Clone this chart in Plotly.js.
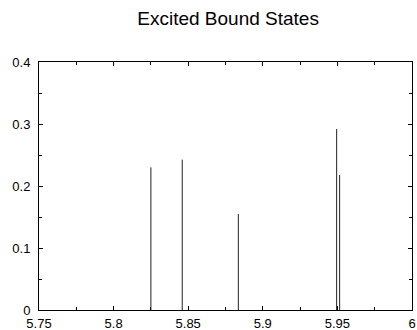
<!DOCTYPE html>
<html>
<head>
<meta charset="utf-8">
<script src="https://cdn.plot.ly/plotly-3.0.1.min.js"></script>
<style>html,body{margin:0;padding:0;background:#fff;}#chart{width:417px;height:330px;}</style>
</head>
<body>
<div id="chart"></div>
<script>
// Peak energies and intensities of the excited bound states
const energies = [5.825, 5.846, 5.8836, 5.9495, 5.9515];
const intensities = [0.230, 0.2425, 0.155, 0.292, 0.2177];
const xTicks = [5.75, 5.8, 5.85, 5.9, 5.95, 6];
const xTickText = ['5.75', '5.8', '5.85', '5.9', '5.95', '6'];
const yTicks = [0, 0.1, 0.2, 0.3, 0.4];
const yTickText = ['0', '0.1', '0.2', '0.3', '0.4'];

const xs = [], ys = [];
energies.forEach((e, i) => { xs.push(e, e, null); ys.push(0, intensities[i], null); });

const trace = {
  x: xs, y: ys, type: 'scatter', mode: 'lines',
  line: {color: '#222', width: 1}, hoverinfo: 'skip', showlegend: false
};

const axisCommon = {
  showgrid: false, zeroline: false, showline: true, linecolor: '#000', linewidth: 1,
  mirror: 'ticks', ticks: 'inside', ticklen: 4, tickcolor: '#000', tickwidth: 1,
  tickfont: {family: 'Liberation Sans, Arial, sans-serif', size: 13, color: '#000'}
};

const layout = {
  width: 417, height: 330,
  margin: {l: 39, r: 5, t: 62, b: 20},
  paper_bgcolor: '#fff', plot_bgcolor: '#fff',
  title: {text: 'Excited Bound States', x: 0.547, xanchor: 'center', y: 0.945, yanchor: 'middle',
          font: {family: 'Liberation Sans, Arial, sans-serif', size: 19, color: '#000'}},
  xaxis: Object.assign({}, axisCommon, {
    range: [5.75, 6], tickmode: 'array', tickvals: xTicks, ticktext: xTickText,
    ticklabelstandoff: 1,
    minor: {dtick: 0.025, tick0: 5.75, ticks: 'inside', ticklen: 3, tickcolor: '#000', showgrid: false}
  }),
  yaxis: Object.assign({}, axisCommon, {
    range: [0, 0.4], tickmode: 'array', tickvals: yTicks, ticktext: yTickText,
    ticklabelstandoff: 5,
    minor: {dtick: 0.05, tick0: 0, ticks: 'inside', ticklen: 3, tickcolor: '#000', showgrid: false}
  })
};

Plotly.newPlot('chart', [trace], layout, {staticPlot: true, displayModeBar: false});
</script>
</body>
</html>
